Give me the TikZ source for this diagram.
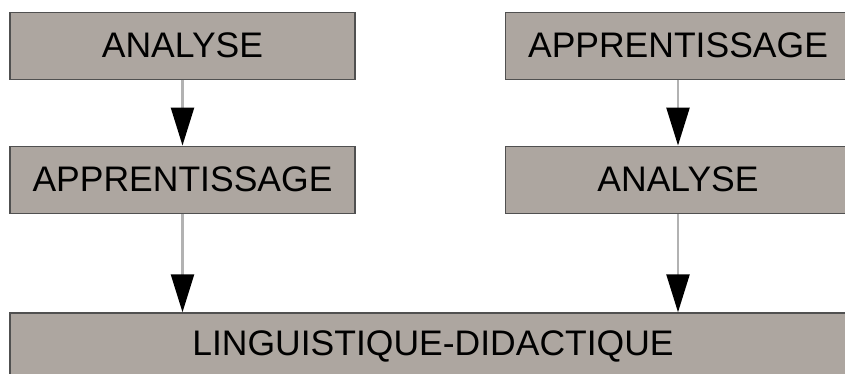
\documentclass[tikz,border=0pt]{standalone}
\usepackage{fontspec}
\setmainfont{Liberation Sans}
\usetikzlibrary{arrows.meta}
\definecolor{boxfill}{RGB}{173,166,160}
\definecolor{boxline}{RGB}{80,80,80}
\definecolor{arrline}{RGB}{178,178,178}
\begin{document}
\begin{tikzpicture}[
    x=1pt, y=1pt,
    box/.style={rectangle, draw=boxline, line width=1.4pt, fill=boxfill, minimum width=345pt, minimum height=67pt, inner sep=0pt, font=\fontsize{35.5}{40}\selectfont},
    bigbox/.style={box, minimum width=846pt},
    arr/.style={draw=arrline, line width=2.4pt, -{Triangle[width=23pt, length=38pt, color=black]}}
]
\useasboundingbox (0,0) rectangle (845,373);
\clip (0,0) rectangle (845,373);
% left column
\node[box] (ana1) at (182.5,327.25) {ANALYSE};
\node[box] (app1) at (182.5,193.25) {APPRENTISSAGE};

% right column
\node[box] (app2) at (678,327.25) {APPRENTISSAGE};
\node[box] (ana2) at (678,193.25) {ANALYSE};

% bottom
\node[bigbox] (ling) at (433,26.5) {LINGUISTIQUE-DIDACTIQUE};

% Connections
\draw[arr] (ana1) -- (app1);
\draw[arr] (app2) -- (ana2);
\draw[arr] (app1) -- (app1 |- ling.north);
\draw[arr] (ana2) -- (ana2 |- ling.north);
\end{tikzpicture}
\end{document}
